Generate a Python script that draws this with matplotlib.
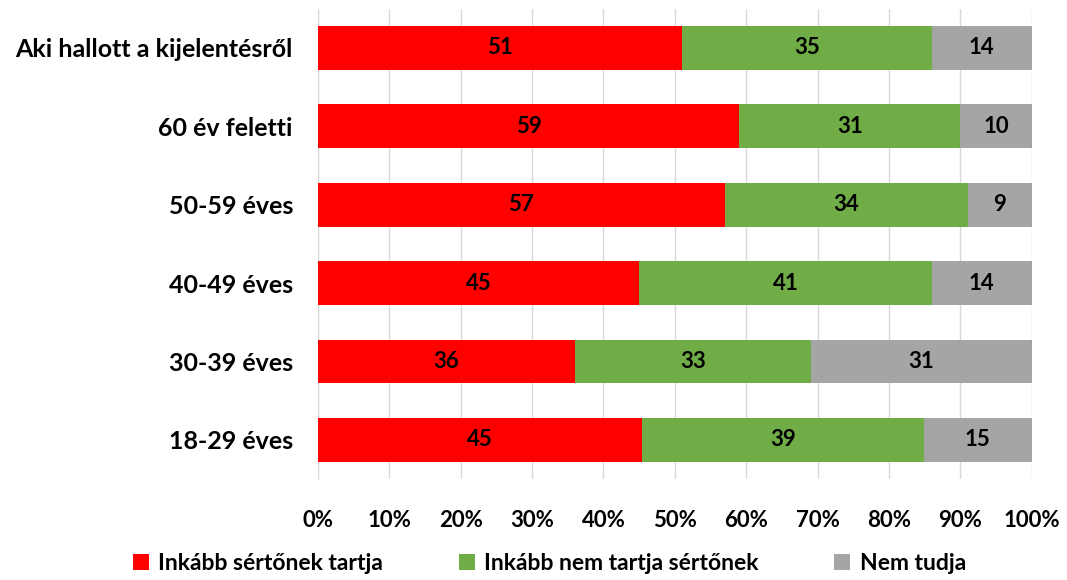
import numpy as np
import matplotlib.pyplot as plt

plt.rcParams['font.family'] = ['Lato', 'DejaVu Sans']
plt.rcParams['font.weight'] = 'bold'

# kategóriák alulról felfelé
categories = ['18-29 éves', '30-39 éves', '40-49 éves', '50-59 éves', '60 év feletti', 'Aki hallott a kijelentésről']
serto = [45, 36, 45, 57, 59, 51]
nem_serto = [39, 33, 41, 34, 31, 35]
nem_tudja = [15, 31, 14, 9, 10, 14]
series_names = ['Inkább sértőnek tartja', 'Inkább nem tartja sértőnek', 'Nem tudja']
colors = ['#ff0000', '#70ad47', '#a5a5a5']

data = np.array([serto, nem_serto, nem_tudja], dtype=float)
share = data / data.sum(axis=0) * 100

fig = plt.figure(figsize=(10.67, 5.8), dpi=100)
ax = fig.add_axes([0.298, 0.174, 0.669, 0.811])

y = np.arange(len(categories))
left = np.zeros(len(categories))
for i in range(3):
    bars = ax.barh(y, share[i], left=left, height=0.56, color=colors[i], label=series_names[i], zorder=3)
    for j, b in enumerate(bars):
        ax.text(left[j] + share[i][j] / 2, y[j], str(int(data[i][j])), ha='center', va='center',
                fontsize=16, fontweight='bold', color='black', zorder=4)
    left += share[i]

ax.set_xlim(0, 100)
ax.set_ylim(-0.5, len(categories) - 0.5)
ax.set_xticks(np.arange(0, 101, 10))
ax.set_xticklabels([f'{v}%' for v in range(0, 101, 10)], fontsize=16, fontweight='bold')
ax.set_yticks(y)
ax.set_yticklabels(categories, fontsize=18, fontweight='bold')
ax.tick_params(length=0, pad=18)
ax.tick_params(axis='x', pad=22)
ax.grid(axis='x', color='#d9d9d9', lw=1, zorder=0)
for s in ['top', 'right', 'bottom']:
    ax.spines[s].set_visible(False)
ax.spines['left'].set_color('#d9d9d9')

fig.legend(loc='lower center', bbox_to_anchor=(0.515, -0.025), ncol=3, frameon=False,
           prop={'size': 16.5, 'weight': 'bold'}, handlelength=0.7, handleheight=0.7,
           columnspacing=3.3, handletextpad=0.4)

plt.savefig('out.png')
